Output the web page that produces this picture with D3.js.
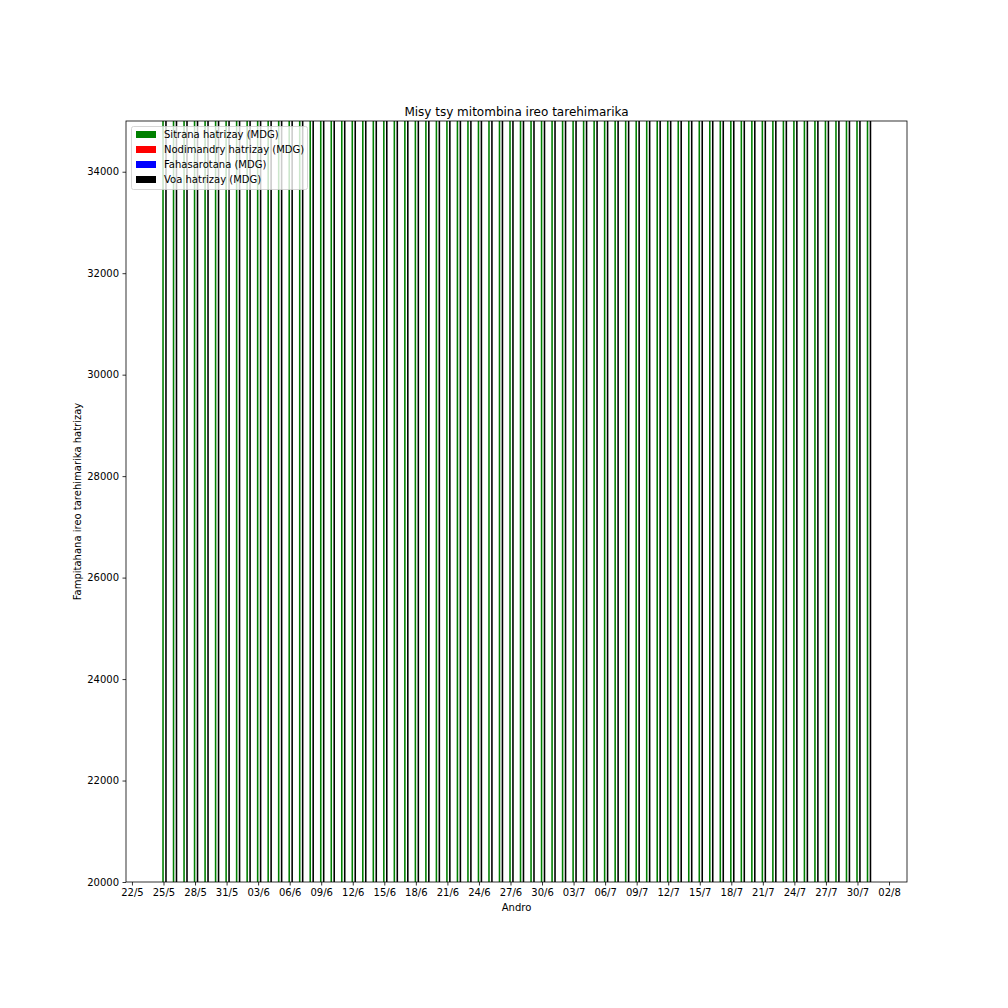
<!DOCTYPE html>
<html><head><meta charset="utf-8">
<script src="https://cdn.jsdelivr.net/npm/d3@7"></script>
<style>body{margin:0;background:#fff}svg{display:block;font-family:"DejaVu Sans",sans-serif}</style>
</head><body>
<script>
const dates = ["2020-05-25","2020-05-26","2020-05-27","2020-05-28","2020-05-29","2020-05-30","2020-05-31",
"2020-06-01","2020-06-02","2020-06-03","2020-06-04","2020-06-05","2020-06-06","2020-06-07","2020-06-08","2020-06-09","2020-06-10",
"2020-06-11","2020-06-12","2020-06-13","2020-06-14","2020-06-15","2020-06-16","2020-06-17","2020-06-18","2020-06-19","2020-06-20",
"2020-06-21","2020-06-22","2020-06-23","2020-06-24","2020-06-25","2020-06-26","2020-06-27","2020-06-28","2020-06-29","2020-06-30",
"2020-07-01","2020-07-02","2020-07-03","2020-07-04","2020-07-05","2020-07-06","2020-07-07","2020-07-08","2020-07-09","2020-07-10",
"2020-07-11","2020-07-12","2020-07-13","2020-07-14","2020-07-15","2020-07-16","2020-07-17","2020-07-18","2020-07-19","2020-07-20",
"2020-07-21","2020-07-22","2020-07-23","2020-07-24","2020-07-25","2020-07-26","2020-07-27","2020-07-28","2020-07-29","2020-07-30","2020-07-31"];
const sitrana = [35120,35340,35590,35800,36070,36290,36520,36780,37010,37260,
37490,37750,37980,38240,38470,38730,38960,39220,39450,39710,
39940,40200,40430,40690,40920,41180,41410,41670,41900,42160,
42390,42650,42880,43140,43370,43630,43860,44120,44350,44610,
44840,45100,45330,45590,45820,46080,46310,46570,46800,47060,
47290,47550,47780,48040,48270,48530,48760,49020,49250,49510,
49740,50000,50230,50490,50720,50980,51210,51470];
const nodimandry = [110,112,115,118,120,123,125,128,131,134,137,140,143,146,149,152,156,160,164,168,
172,176,180,185,190,195,200,205,210,216,222,228,234,240,246,252,258,265,272,279,
286,293,300,308,316,324,332,340,348,356,364,372,380,388,396,404,412,420,428,436,
444,452,460,468,476,484,492,500];
const fahasarotana = [820,858,915,962,1050,1097,1145,1212,1259,1336,1383,1470,1497,1594,1651,1708,1734,1840,1886,1952,
2028,2044,2180,2175,2270,2315,2380,2435,2510,2574,2618,2702,2746,2810,2884,2938,2992,3065,3108,3191,
3234,3297,3380,3422,3504,3546,3628,3670,3752,3794,3876,3918,4000,4042,4124,4166,4248,4290,4372,4414,
4496,4538,4620,4662,4744,4786,4868,4910];
const voa = [36050,36310,36620,36880,37240,37510,37790,38120,38400,38730,
39010,39360,39620,39980,40270,40590,40850,41220,41500,41830,
42140,42420,42790,43050,43380,43690,43990,44310,44620,44950,
45230,45580,45860,46190,46500,46820,47110,47450,47730,48080,
48360,48690,49010,49320,49640,49950,50270,50580,50900,51210,
51530,51840,52160,52470,52790,53100,53420,53730,54050,54360,
54680,54990,55310,55620,55940,56250,56570,56880];
const seriesNames = ["Sitrana hatrizay (MDG)","Nodimandry hatrizay (MDG)","Fahasarotana (MDG)","Voa hatrizay (MDG)"];
const seriesColors = ["#008000","#ff0000","#0000ff","#000000"];
const xTickDates = ["2020-05-22","2020-05-25","2020-05-28","2020-05-31","2020-06-03","2020-06-06","2020-06-09","2020-06-12",
"2020-06-15","2020-06-18","2020-06-21","2020-06-24","2020-06-27","2020-06-30","2020-07-03","2020-07-06","2020-07-09",
"2020-07-12","2020-07-15","2020-07-18","2020-07-21","2020-07-24","2020-07-27","2020-07-30","2020-08-02"];
const yTicks = [20000,22000,24000,26000,28000,30000,32000,34000];

const W=1008,H=1008, L=126, R=907, T=121, B=882;
const DAY=86400000;
const parse = d3.utcParse("%Y-%m-%d");
const dts = dates.map(parse);
const svg = d3.select("body").append("svg").attr("width",W).attr("height",H);

const x = d3.scaleUtc()
  .domain([new Date(+dts[0]-3.566*DAY), new Date(+dts[0]+70.71*DAY)])
  .range([L,R]);
const y = d3.scaleLinear().domain([20000,35000]).range([B,T]);

svg.append("defs").append("clipPath").attr("id","clip")
  .append("rect").attr("x",L).attr("y",T).attr("width",R-L).attr("height",B-T);

const series = [sitrana,nodimandry,fahasarotana,voa];
const offsets = [[-0.12,0.03],[0.03,0.16],[0.16,0.31],[0.16,0.31]];
const g = svg.append("g").attr("clip-path","url(#clip)");
series.forEach((vals,si)=>{
  g.selectAll(null).data(vals).join("rect")
    .attr("x",(v,i)=>x(new Date(+dts[i]+offsets[si][0]*DAY)))
    .attr("width",(v,i)=>x(new Date(+dts[i]+offsets[si][1]*DAY))-x(new Date(+dts[i]+offsets[si][0]*DAY)))
    .attr("y",v=>y(v))
    .attr("height",v=>Math.max(0,y(0)-y(v)))
    .attr("fill",seriesColors[si]);
});

// axes
const fmt = d3.utcFormat("%d/%-m");
const xAxis = d3.axisBottom(x).tickValues(xTickDates.map(parse)).tickFormat(fmt).tickSize(3.5).tickPadding(3.5);
const gx = svg.append("g").attr("transform",`translate(0,${B})`).call(xAxis);
const yAxis = d3.axisLeft(y).tickValues(yTicks).tickFormat(d3.format("d")).tickSize(3.5).tickPadding(3.5);
const gy = svg.append("g").attr("transform",`translate(${L},0)`).call(yAxis);
[gx,gy].forEach(a=>{
  a.select(".domain").remove();
  a.selectAll("text").attr("font-size",10).attr("fill","#000").attr("font-family","DejaVu Sans");
  a.selectAll("line").attr("stroke","#000").attr("stroke-width",0.8);
});
svg.append("rect").attr("x",L).attr("y",T).attr("width",R-L).attr("height",B-T)
  .attr("fill","none").attr("stroke","#000").attr("stroke-width",0.8);

svg.append("text").attr("x",(L+R)/2).attr("y",T-5).attr("text-anchor","middle")
  .attr("font-size",12).text("Misy tsy mitombina ireo tarehimarika");
svg.append("text").attr("x",(L+R)/2).attr("y",911).attr("text-anchor","middle")
  .attr("font-size",10).text("Andro");
svg.append("text").attr("transform",`translate(81,${(T+B)/2}) rotate(-90)`).attr("text-anchor","middle")
  .attr("font-size",10).text("Fampitahana ireo tarehimarika hatrizay");

// legend
const lg = svg.append("g");
lg.append("rect").attr("x",131.5).attr("y",126.5).attr("width",176).attr("height",63).attr("rx",2)
  .attr("fill","#fff").attr("fill-opacity",0.8).attr("stroke","#cccccc").attr("stroke-width",0.8);
seriesNames.forEach((n,i)=>{
  const cy = 134.5 + i*15;
  lg.append("rect").attr("x",136).attr("y",cy-3.5).attr("width",20).attr("height",7).attr("fill",seriesColors[i]);
  lg.append("text").attr("x",164).attr("y",cy).attr("dy","0.35em").attr("font-size",10).text(n);
});
</script>
</body></html>
